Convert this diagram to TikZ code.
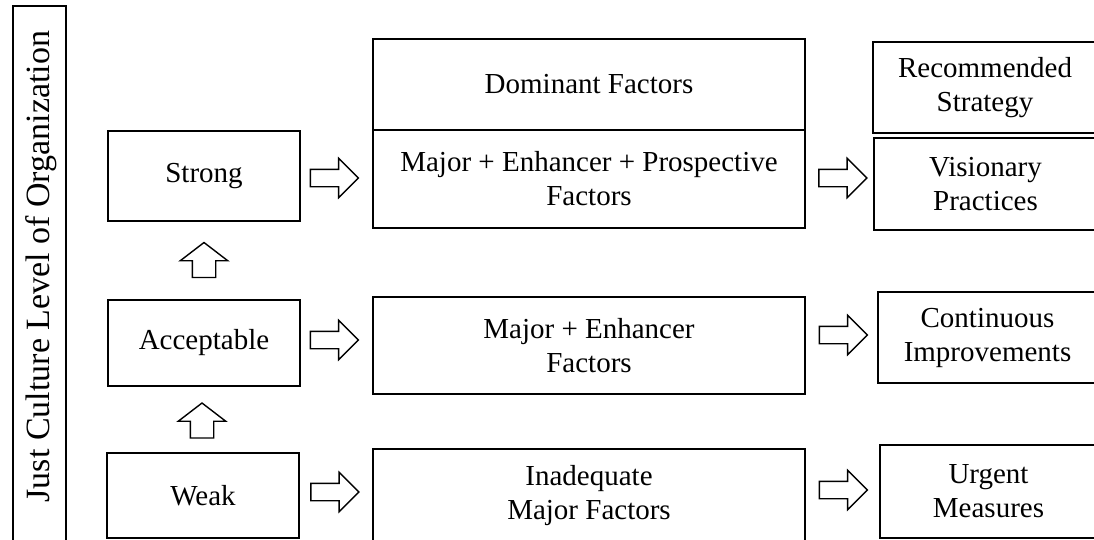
\documentclass[tikz,border=0pt]{standalone}
\usepackage{fontspec}
\setmainfont{Liberation Serif}
\usetikzlibrary{shapes.arrows}
\tikzset{
  box/.style={draw=black, line width=1.5pt, rectangle, inner sep=0pt, align=center,
    font=\fontsize{29}{34}\selectfont},
  rarrow/.style={draw=black, line width=1.4pt, single arrow, inner xsep=0pt, inner ysep=8pt,
    minimum height=48pt, single arrow head extend=11pt,
    single arrow tip angle=90},
  uarrow/.style={draw=black, line width=1.4pt, single arrow, inner xsep=0pt, inner ysep=11pt,
    minimum height=35pt, single arrow head extend=12pt,
    single arrow tip angle=105, rotate=90},
  lbl/.style={font=\fontsize{34}{40}\selectfont, inner sep=0pt}
}
\begin{document}
\begin{tikzpicture}[x=1pt,y=-1pt]
\useasboundingbox (0,0) rectangle (1094,539);
\clip (0,0) rectangle (1094,539);
% left level box
\node[box, minimum width=53pt, minimum height=545pt] (lvl) at (39.5,278.5) {};
\node[lbl, rotate=90] (lvltext) at (41,266.5) {Just Culture Level of Organization};
% level boxes
\node[box, minimum width=192pt, minimum height=90pt] (strong) at (204,176) {Strong};
\node[box, minimum width=192pt, minimum height=86pt] (accept) at (204,343) {Acceptable};
\node[box, minimum width=192pt, minimum height=85pt] (weak) at (203,495.5) {Weak};
% factor boxes
\node[box, minimum width=432pt, minimum height=91pt] (dom) at (589,84.5) {Dominant Factors};
\node[box, minimum width=432pt, minimum height=98pt] (mep) at (589,179) {Major + Enhancer + Prospective\\Factors};
\node[box, minimum width=432pt, minimum height=97pt] (me) at (589,345.5) {Major + Enhancer\\Factors};
\node[box, minimum width=432pt, minimum height=93pt] (inad) at (589,495.5) {Inadequate\\Major Factors};
% strategy boxes
\node[box, minimum width=224pt, minimum height=91pt] (rec) at (985,87.5) {Recommended\\Strategy};
\node[box, minimum width=223pt, minimum height=92pt] (vis) at (985.5,184) {Visionary\\Practices};
\node[box, minimum width=219pt, minimum height=91pt] (cont) at (987.5,337.5) {Continuous\\Improvements};
\node[box, minimum width=217pt, minimum height=93pt] (urg) at (988.5,491.5) {Urgent\\Measures};
% block arrows
\node[rarrow] (a1) at (330,178) {};
\node[rarrow] (a2) at (330,340) {};
\node[rarrow] (a3) at (330.5,492) {};
\node[rarrow] (a4) at (838.5,178) {};
\node[rarrow] (a5) at (839,335) {};
\node[rarrow] (a6) at (839,490) {};
\node[uarrow] (u1) at (204,264.5) {};
\node[uarrow] (u2) at (202,425) {};
\end{tikzpicture}
\end{document}
